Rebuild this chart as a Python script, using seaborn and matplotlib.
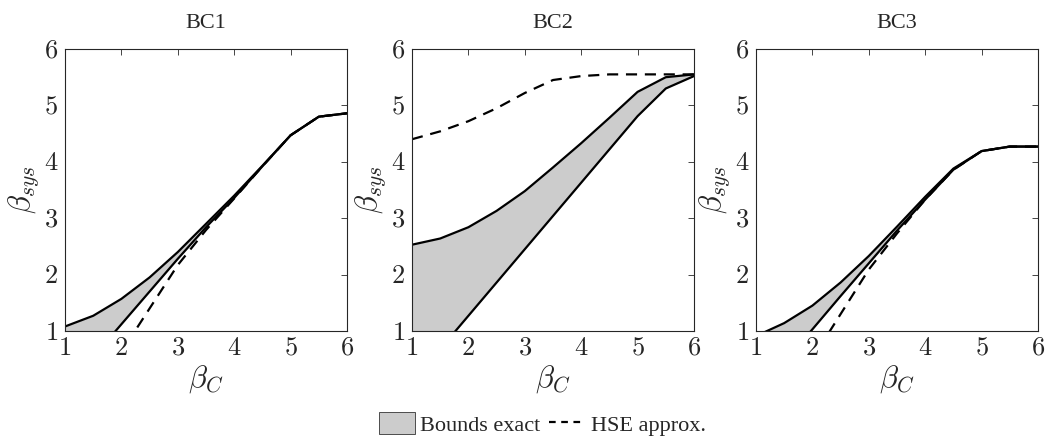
import numpy as np
import pandas as pd
import matplotlib
matplotlib.use("Agg")
import matplotlib.pyplot as plt
import seaborn as sns
from matplotlib.patches import Patch
from matplotlib.lines import Line2D
from matplotlib.ticker import FuncFormatter

# values (beta_C grid in steps of 0.5)
beta_c = [1.0, 1.5, 2.0, 2.5, 3.0, 3.5, 4.0, 4.5, 5.0, 5.5, 6.0]

bc1_upper = [1.08, 1.27, 1.57, 1.95, 2.40, 2.90, 3.40, 3.93, 4.47, 4.80, 4.86]
bc1_lower = [0.00, 0.54, 1.12, 1.70, 2.28, 2.84, 3.36, 3.92, 4.47, 4.80, 4.86]
bc1_hse = [-0.90, -0.10, 0.63, 1.40, 2.17, 2.79, 3.35, 3.92, 4.47, 4.80, 4.86]

bc2_upper = [2.53, 2.64, 2.84, 3.13, 3.48, 3.90, 4.33, 4.78, 5.24, 5.50, 5.55]
bc2_lower = [0.09, 0.68, 1.27, 1.86, 2.45, 3.04, 3.63, 4.22, 4.81, 5.30, 5.52]
bc2_hse = [4.40, 4.54, 4.72, 4.95, 5.22, 5.45, 5.52, 5.55, 5.55, 5.55, 5.55]

bc3_upper = [0.91, 1.14, 1.45, 1.86, 2.33, 2.85, 3.38, 3.88, 4.19, 4.27, 4.27]
bc3_lower = [-0.10, 0.45, 1.03, 1.62, 2.20, 2.78, 3.33, 3.86, 4.19, 4.27, 4.27]
bc3_hse = [-1.10, -0.30, 0.51, 1.30, 2.09, 2.73, 3.33, 3.86, 4.19, 4.27, 4.27]

titles = ["BC1", "BC2", "BC3"]
uppers = [bc1_upper, bc2_upper, bc3_upper]
lowers = [bc1_lower, bc2_lower, bc3_lower]
hses = [bc1_hse, bc2_hse, bc3_hse]

sns.set_style("white")
plt.rcParams["font.family"] = ["Liberation Serif", "DejaVu Serif"]
plt.rcParams["mathtext.fontset"] = "cm"

fill_color = "#cccccc"
dash = (0, (5, 3.5))

fig = plt.figure(figsize=(10.47, 4.44), dpi=100)
W, H = 1047, 444
lefts = [65, 412, 756]

for i in range(3):
    ax = fig.add_axes([lefts[i] / W, 113 / H, 282 / W, 282 / H])
    df = pd.DataFrame({"beta_c": beta_c, "upper": uppers[i],
                       "lower": lowers[i], "hse": hses[i]})

    ax.fill_between(df["beta_c"], df["lower"], df["upper"], color=fill_color, lw=0)
    sns.lineplot(data=df, x="beta_c", y="upper", color="k", lw=1.6, ax=ax)
    sns.lineplot(data=df, x="beta_c", y="lower", color="k", lw=1.6, ax=ax)
    sns.lineplot(data=df, x="beta_c", y="hse", color="k", lw=1.6, linestyle=dash, ax=ax)

    ax.set_xlim(1, 6)
    ax.set_ylim(1, 6)
    ax.set_xticks([1, 2, 3, 4, 5, 6])
    ax.set_yticks([1, 2, 3, 4, 5, 6])
    fmt = FuncFormatter(lambda v, p: f"${v:g}$")
    ax.xaxis.set_major_formatter(fmt)
    ax.yaxis.set_major_formatter(fmt)
    ax.tick_params(direction="in", top=True, right=True, length=4, width=0.6,
                   labelsize=19, colors="#262626", pad=5)
    for s in ax.spines.values():
        s.set_linewidth(0.8)
        s.set_color("#262626")

    ax.set_title(titles[i], fontsize=16, pad=15)
    ax.set_xlabel(r"$\beta_C$", fontsize=22, labelpad=2, color="#262626")
    ax.set_ylabel(r"$\beta_{sys}$", fontsize=22, labelpad=2, color="#262626")

handles = [
    Patch(facecolor=fill_color, edgecolor="#333333", lw=0.6, label="Bounds exact"),
    Line2D([], [], color="k", lw=1.6, linestyle=(0, (3, 2.5)), label="HSE approx."),
]
fig.legend(handles=handles, loc="center", bbox_to_anchor=(0.518, 0.045), ncol=2,
           frameon=False, fontsize=16, handlelength=1.6, handleheight=1.1,
           columnspacing=0.4, handletextpad=0.25)

fig.savefig("out.png", dpi=100)
